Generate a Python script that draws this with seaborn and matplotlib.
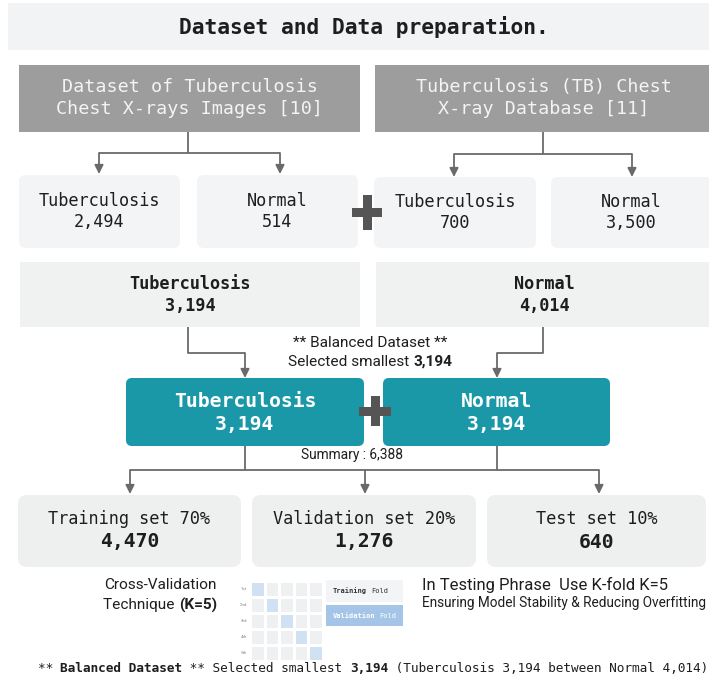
import matplotlib
matplotlib.use("Agg")
import matplotlib.pyplot as plt
from matplotlib.patches import FancyBboxPatch, Rectangle
from matplotlib.colors import ListedColormap
import seaborn as sns
import numpy as np
import pandas as pd

# ---------------- data ----------------
title = "Dataset and Data preparation."
source_names = ["Dataset of Tuberculosis\nChest X-rays Images [10]",
                "Tuberculosis (TB) Chest\nX-ray Database [11]"]
source_classes = ["Tuberculosis", "Normal", "Tuberculosis", "Normal"]
source_counts = [2494, 514, 700, 3500]
merged_classes = ["Tuberculosis", "Normal"]
merged_counts = [3194, 4014]
balanced_counts = [3194, 3194]
split_names = ["Training set 70%", "Validation set 20%", "Test set 10%"]
split_counts = [4470, 1276, 640]
fold_labels = ["1st", "2nd", "3rd", "4th", "5th"]
fold_validation_index = [0, 1, 2, 3, 4]

sns.set_style("white")
MONO = "DejaVu Sans Mono"
SANS = "Roboto"
plt.rcParams["font.family"] = [SANS, "DejaVu Sans"]

W, H = 709, 680
fig = plt.figure(figsize=(W / 100, H / 100), dpi=100)
ax = fig.add_axes([0, 0, 1, 1])
ax.set_xlim(0, W)
ax.set_ylim(H, 0)
ax.axis("off")
renderer = fig.canvas.get_renderer()

DARK = "#1e1e1e"
LINE = "#6a6a6a"
TEAL = "#1a98a8"


def box(x0, y0, x1, y1, color, r=0):
    if r > 0:
        p = FancyBboxPatch((x0 + r, y0 + r), x1 - x0 - 2 * r, y1 - y0 - 2 * r,
                           boxstyle=f"round,pad={r}", fc=color, ec="none", zorder=1)
    else:
        p = Rectangle((x0, y0), x1 - x0, y1 - y0, fc=color, ec="none", zorder=1)
    ax.add_patch(p)


def txt(x, y, s, size, family=MONO, weight="normal", color=DARK, ha="center"):
    return ax.text(x, y, s, fontsize=size, family=family, fontweight=weight,
                   color=color, ha=ha, va="center", zorder=5, linespacing=1.25)


def width_of(s, size, family, weight):
    t = ax.text(0, 0, s + "|", fontsize=size, family=family, fontweight=weight)
    t2 = ax.text(0, 0, "|", fontsize=size, family=family, fontweight=weight)
    w = t.get_window_extent(renderer).width - t2.get_window_extent(renderer).width
    t.remove(); t2.remove()
    return w


def mixed(x, y, pieces, size, family=MONO, color=DARK):
    widths = [width_of(s, size, family, w) for s, w in pieces]
    start = x - sum(widths) / 2
    for (s, w), wd in zip(pieces, widths):
        ax.text(start, y, s, fontsize=size, family=family, fontweight=w,
                color=color, ha="left", va="center", zorder=5)
        start += wd


def line(xs, ys):
    ax.plot(xs, ys, color=LINE, lw=1.3, zorder=2, solid_capstyle="butt")


def arrow(x, y0, y1):
    ax.annotate("", xy=(x, y1), xytext=(x, y0),
                arrowprops=dict(arrowstyle="-|>", color=LINE, lw=1.3,
                                mutation_scale=13, shrinkA=0, shrinkB=0), zorder=3)


def plus(cx, cy, w, h, t):
    ax.add_patch(Rectangle((cx - w / 2, cy - t / 2), w, t, fc="#555555", ec="none", zorder=6))
    ax.add_patch(Rectangle((cx - t / 2, cy - h / 2), t, h, fc="#555555", ec="none", zorder=6))


# ---------------- title ----------------
box(8, 3, 709, 50, "#f2f3f4")
txt(364, 27, title, 15.3, weight="bold")

# ---------------- sources ----------------
src_boxes = [(19, 65, 360, 132), (375, 65, 712, 132)]
for (x0, y0, x1, y1), name in zip(src_boxes, source_names):
    box(x0, y0, x1, y1, "#9d9d9d")
    txt((x0 + x1) / 2, 98, name, 13.2, color="#f4f4f4")

# connectors source -> classes
line([188, 188], [132, 153]); line([99, 280], [153, 153])
arrow(99, 153, 174); arrow(280, 153, 174)
line([543, 543], [132, 154]); line([454, 632], [154, 154])
arrow(454, 154, 177); arrow(632, 154, 177)

cls_boxes = [(19, 175, 180, 248), (197, 175, 358, 248),
             (374, 177, 536, 248), (551, 177, 712, 248)]
for (x0, y0, x1, y1), c, n in zip(cls_boxes, source_classes, source_counts):
    box(x0, y0, x1, y1, "#f3f4f6", r=7)
    txt((x0 + x1) / 2, (y0 + y1) / 2, f"{c}\n{n:,}", 12.2)
plus(367, 212, 30, 35, 9)

# merged
mer_boxes = [(20, 262, 360, 327), (376, 262, 712, 327)]
for (x0, y0, x1, y1), c, n in zip(mer_boxes, merged_classes, merged_counts):
    box(x0, y0, x1, y1, "#f0f1f1")
    txt((x0 + x1) / 2, 295, f"{c}\n{n:,}", 12.2, weight="bold")

line([188, 188, 245], [327, 353, 353]); arrow(245, 353, 378)
line([543, 543, 497], [327, 353, 353]); arrow(497, 353, 378)

txt(370, 343, "** Balanced Dataset **", 11.1, family=SANS)
mixed(370, 362, [("Selected smallest ", "normal"), (f"{min(merged_counts):,}", "bold")],
      11.1, family=SANS)

# balanced teal boxes
bal_boxes = [(126, 378, 364, 446), (383, 378, 610, 446)]
for (x0, y0, x1, y1), c, n in zip(bal_boxes, merged_classes, balanced_counts):
    box(x0, y0, x1, y1, TEAL, r=6)
    txt((x0 + x1) / 2, 413, f"{c}\n{n:,}", 14.2, weight="bold", color="white")
plus(375, 411, 32, 30, 9)

txt(352, 455, f"Summary : {sum(balanced_counts):,}", 9.9, family=SANS)

line([245, 245], [446, 470]); line([497, 497], [446, 470])
line([130, 599], [470, 470])
for x in (130, 365, 599):
    arrow(x, 470, 494)

split_boxes = [(18, 495, 241, 567), (252, 495, 476, 567), (487, 495, 706, 567)]
for (x0, y0, x1, y1), s, n in zip(split_boxes, split_names, split_counts):
    box(x0, y0, x1, y1, "#eeefef", r=9)
    cx = (x0 + x1) / 2
    txt(cx, 519, s, 12.2)
    txt(cx, 542, f"{n:,}", 14.2, weight="bold")

# ---------------- cross validation ----------------
txt(160, 585, "Cross-Validation", 11.1, family=SANS)
mixed(160, 605, [("Technique ", "normal"), ("(K=5)", "bold")], 11.1, family=SANS)

txt(422, 585, "In Testing Phrase  Use K-fold K=5", 12, family=SANS, ha="left")
txt(422, 603, "Ensuring Model Stability & Reducing Overfitting", 9.85, family=SANS, ha="left")

box(326, 580, 403, 602, "#f3f4f5")
box(326, 605, 403, 626, "#a5c5e8")
ax.text(333, 591, "Training", fontsize=5, family=MONO, fontweight="bold",
        color="#333333", va="center", ha="left", zorder=5)
ax.text(333 + width_of("Training ", 5, MONO, "bold"), 591, "Fold", fontsize=5,
        family=MONO, color="#333333", va="center", ha="left", zorder=5)
ax.text(333, 616, "Validation", fontsize=5, family=MONO, fontweight="bold",
        color="white", va="center", ha="left", zorder=5)
ax.text(333 + width_of("Validation ", 5, MONO, "bold"), 616, "Fold", fontsize=5,
        family=MONO, color="white", va="center", ha="left", zorder=5)

# footnote
mixed(373, 668, [("** ", "normal"), ("Balanced Dataset", "bold"),
                 (" ** Selected smallest ", "normal"), (f"{min(merged_counts):,}", "bold"),
                 (f" ({merged_classes[0]} {merged_counts[0]:,} between "
                  f"{merged_classes[1]} {merged_counts[1]:,})", "normal")], 9.2)

# k-fold grid via seaborn heatmap
mat = np.zeros((len(fold_labels), len(fold_labels)))
for i, j in enumerate(fold_validation_index):
    mat[i, j] = 1
df = pd.DataFrame(mat, index=fold_labels)
hx0, hy0, hx1, hy1 = 250, 581, 323, 661
hax = fig.add_axes([hx0 / W, 1 - hy1 / H, (hx1 - hx0) / W, (hy1 - hy0) / H])
sns.heatmap(df, ax=hax, cmap=ListedColormap(["#eef0f1", "#cfe1f3"]), cbar=False,
            linewidths=1.0, linecolor="white", xticklabels=False, yticklabels=fold_labels)
hax.tick_params(axis="y", length=0, labelsize=3.2, labelcolor="#888888", pad=2)
for lab in hax.get_yticklabels():
    lab.set_rotation(0)
hax.set_xlabel(""); hax.set_ylabel("")

fig.savefig("out.png", dpi=100)
